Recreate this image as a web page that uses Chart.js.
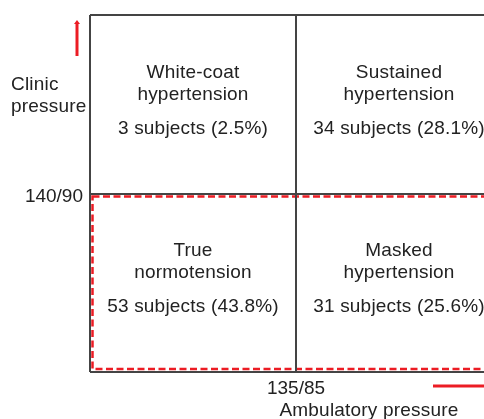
<!DOCTYPE html>
<html>
<head>
<meta charset="utf-8">
<title>Clinic vs ambulatory pressure</title>
<script src="https://cdn.jsdelivr.net/npm/chart.js@4.4.1/dist/chart.umd.min.js"></script>
<style>
  html, body { margin: 0; padding: 0; background: #fff; overflow: hidden; }
  #wrap { width: 484px; height: 419px; overflow: hidden; }
</style>
</head>
<body>
<div id="wrap"><canvas id="bpChart" width="520" height="419"></canvas></div>
<script>
// quadrant data, order: top-left, top-right, bottom-left, bottom-right
const quadrantTitles = [['White-coat', 'hypertension'], ['Sustained', 'hypertension'], ['True', 'normotension'], ['Masked', 'hypertension']];
const quadrantSubjects = [3, 34, 53, 31];
const quadrantPercents = [2.5, 28.1, 43.8, 25.6];
const quadrantColumns = [0, 1, 0, 1];
const quadrantRows = [1, 1, 0, 0];

const xTickLabels = ['', '135/85', ''];
const yTickLabels = ['', '140/90', ''];
const xAxisTitle = 'Ambulatory pressure';
const yAxisTitle = ['Clinic', 'pressure'];
const highlightedRow = 0;   // normal clinic pressure row gets the dashed box

const TEXT = '#222';
const LINE = '#444';
const RED = '#ec1c24';
const FONT_FAMILY = '"Liberation Sans", Arial, sans-serif';
const FONT = '19px ' + FONT_FAMILY;

function drawArrowUp(ctx, x, yFrom, yTo) {
    ctx.beginPath();
    ctx.moveTo(x, yFrom);
    ctx.lineTo(x, yTo + 3);
    ctx.stroke();
    ctx.beginPath();
    ctx.moveTo(x - 3, yTo + 4);
    ctx.lineTo(x + 3, yTo + 4);
    ctx.lineTo(x, yTo);
    ctx.closePath();
    ctx.fill();
}

function drawArrowRight(ctx, y, xFrom, xTo) {
    ctx.beginPath();
    ctx.moveTo(xFrom, y);
    ctx.lineTo(xTo - 6, y);
    ctx.stroke();
    ctx.beginPath();
    ctx.moveTo(xTo - 7, y - 4);
    ctx.lineTo(xTo - 7, y + 4);
    ctx.lineTo(xTo, y);
    ctx.closePath();
    ctx.fill();
}

const quadrantPlugin = {
    id: 'quadrants',
    beforeDraw(chart) {
        const { ctx, scales: { x, y } } = chart;
        // dashed box, drawn before the grid so the grey lines stay on top
        const left = x.getPixelForValue(x.min) + 2.5;
        const right = x.getPixelForValue(x.max) - 2.5;
        const top = y.getPixelForValue(highlightedRow + 1) + 3;
        const bottom = y.getPixelForValue(highlightedRow) - 3;
        ctx.save();
        ctx.strokeStyle = RED;
        ctx.lineWidth = 2.5;
        ctx.setLineDash([7, 3.5]);
        ctx.strokeRect(left, top, right - left, bottom - top);
        ctx.restore();
    },
    afterDraw(chart) {
        const { ctx, chartArea, scales: { x, y } } = chart;
        ctx.save();
        ctx.font = FONT;
        ctx.fillStyle = TEXT;
        ctx.letterSpacing = '0.2px';
        ctx.textAlign = 'center';
        ctx.textBaseline = 'middle';

        quadrantTitles.forEach((title, i) => {
            const cx = (x.getPixelForValue(quadrantColumns[i]) + x.getPixelForValue(quadrantColumns[i] + 1)) / 2;
            const qTop = y.getPixelForValue(quadrantRows[i] + 1);
            ctx.fillText(title[0], cx, qTop + 57.5);
            ctx.fillText(title[1], cx, qTop + 79.5);
            ctx.fillText(quadrantSubjects[i] + ' subjects (' + quadrantPercents[i].toFixed(1) + '%)', cx, qTop + 113.5);
        });

        // axis titles
        ctx.fillText(xAxisTitle, x.getPixelForValue(1) + 73, chartArea.bottom + 39);
        ctx.textAlign = 'left';
        ctx.fillText(yAxisTitle[0], 11, chartArea.top + 70);
        ctx.fillText(yAxisTitle[1], 11, chartArea.top + 92);

        // red direction arrows
        ctx.strokeStyle = RED;
        ctx.fillStyle = RED;
        ctx.lineWidth = 3;
        drawArrowUp(ctx, chartArea.left - 13, chartArea.top + 41, chartArea.top + 5);
        drawArrowRight(ctx, chartArea.bottom + 14, x.getPixelForValue(1) + 137, chartArea.right + 10);
        ctx.restore();
    }
};

const ctx = document.getElementById('bpChart').getContext('2d');
new Chart(ctx, {
    type: 'scatter',
    data: {
        datasets: [{
            label: 'Subjects',
            data: quadrantSubjects.map((n, i) => ({ x: quadrantColumns[i] + 0.5, y: quadrantRows[i] + 0.5 })),
            pointRadius: 0,
            pointHoverRadius: 0
        }]
    },
    options: {
        responsive: false,
        animation: false,
        devicePixelRatio: 1,
        layout: { padding: { top: 15, right: 18, left: 0, bottom: 0 } },
        plugins: {
            legend: { display: false },
            tooltip: { enabled: false }
        },
        scales: {
            x: {
                min: 0,
                max: 2,
                afterFit(scale) {
                    scale.height = 47;
                    scale.paddingLeft = 0;
                    scale.paddingRight = 0;
                },
                ticks: {
                    stepSize: 1,
                    autoSkip: false,
                    maxRotation: 0,
                    padding: 5,
                    color: TEXT,
                    font: { family: FONT_FAMILY, size: 19 },
                    callback: (value) => xTickLabels[value] || ''
                },
                grid: { color: LINE, lineWidth: 2, drawTicks: false },
                border: { display: false }
            },
            y: {
                min: 0,
                max: 2,
                afterFit(scale) {
                    scale.width = 90;
                    scale.paddingTop = 0;
                    scale.paddingBottom = 0;
                },
                ticks: {
                    stepSize: 1,
                    autoSkip: false,
                    padding: 7,
                    labelOffset: 3,
                    color: TEXT,
                    font: { family: FONT_FAMILY, size: 19 },
                    callback: (value) => yTickLabels[value] || ''
                },
                grid: { color: LINE, lineWidth: 2, drawTicks: false },
                border: { display: false }
            }
        }
    },
    plugins: [quadrantPlugin]
});
</script>
</body>
</html>
